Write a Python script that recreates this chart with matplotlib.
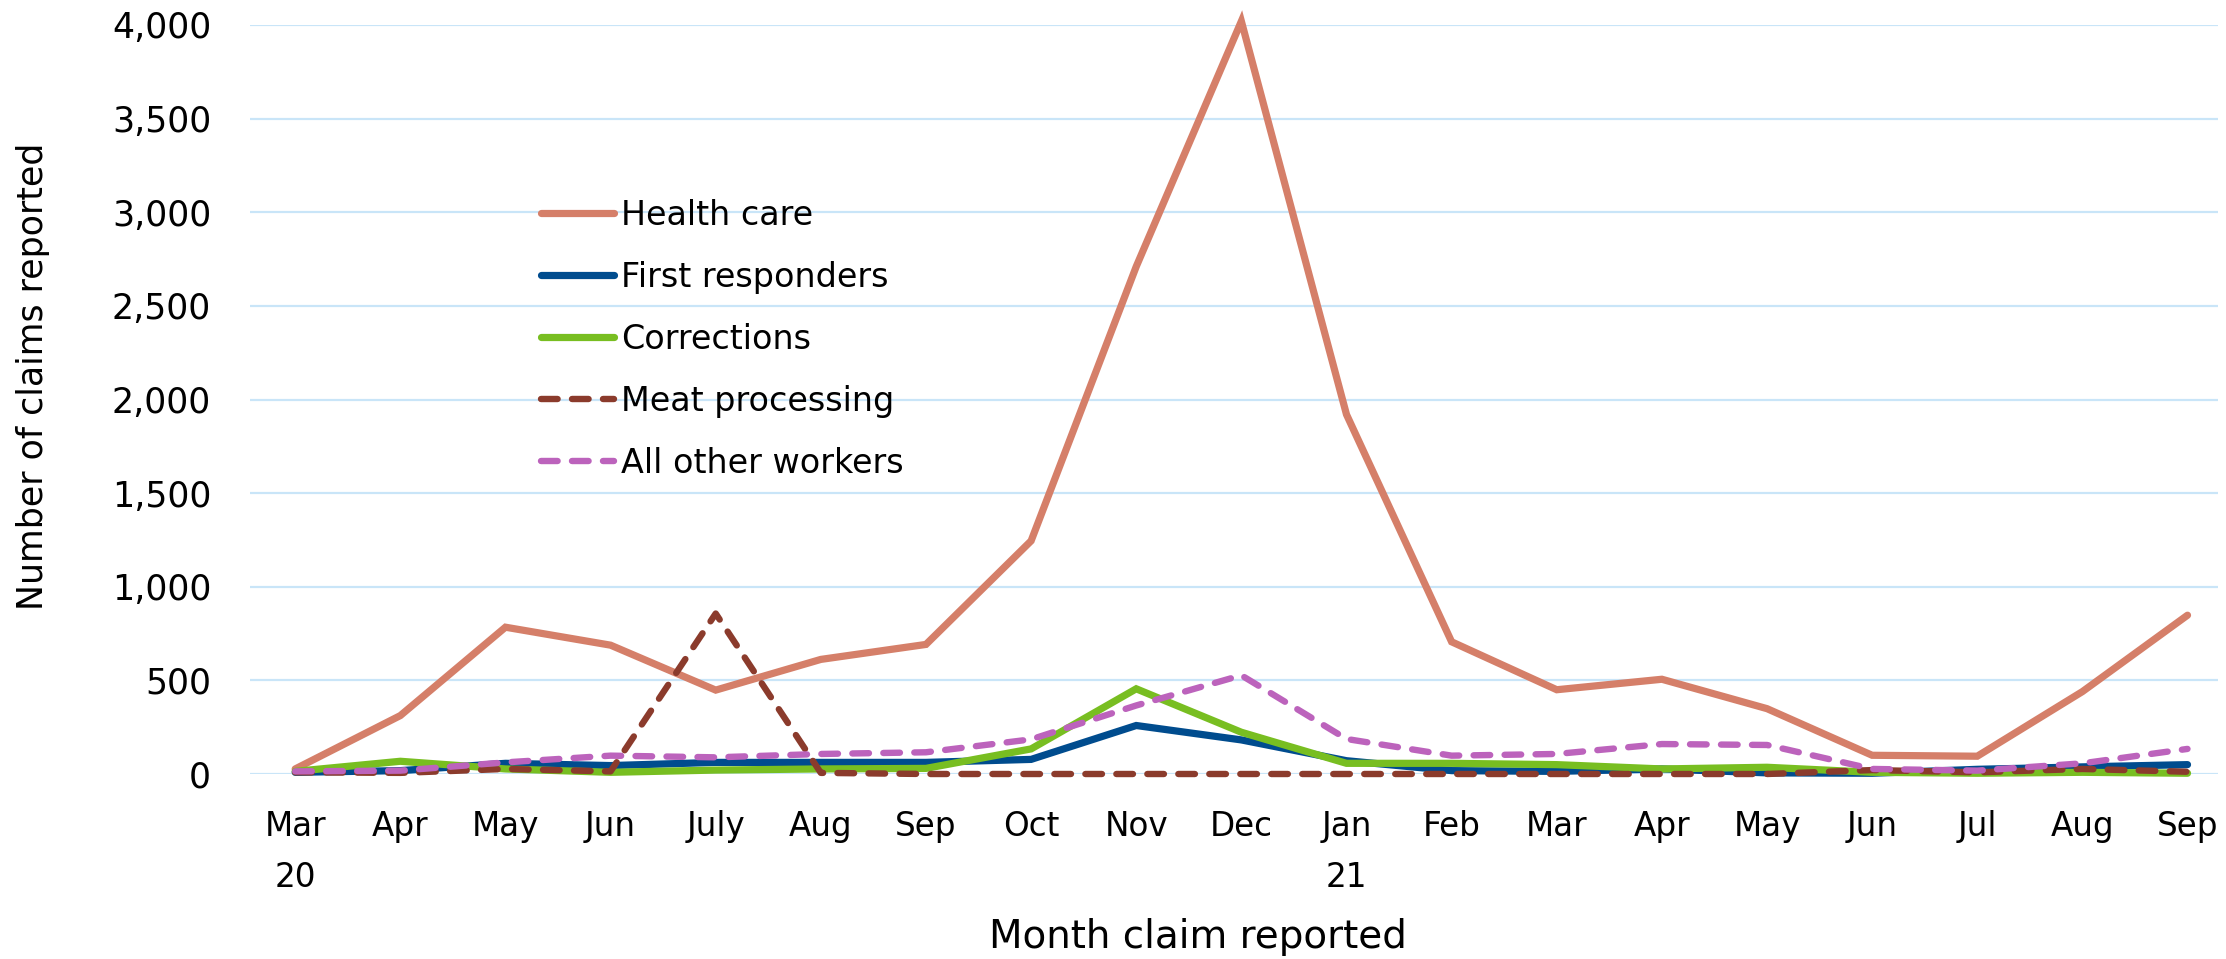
import matplotlib
matplotlib.use("Agg")
import matplotlib.pyplot as plt

months = ["Mar\n20", "Apr", "May", "Jun", "July", "Aug", "Sep", "Oct", "Nov", "Dec",
          "Jan\n21", "Feb", "Mar", "Apr", "May", "Jun", "Jul", "Aug", "Sep"]

health_care = [27, 312, 784, 688, 448, 612, 692, 1245, 2710, 4020,
               1920, 706, 450, 506, 349, 100, 95, 440, 848]
first_responders = [9, 18, 57, 45, 62, 62, 62, 78, 259, 182,
                    71, 18, 14, 27, 6, 4, 25, 38, 50]
corrections = [14, 68, 27, 9, 21, 27, 30, 134, 455, 223,
               57, 57, 50, 27, 36, 9, 4, 9, 4]
meat_processing = [9, 6, 27, 14, 857, 6, 0, 0, 0, 0,
                   0, 0, 0, 0, 0, 21, 9, 27, 12]
all_other = [14, 18, 62, 98, 89, 107, 116, 185, 366, 527,
             187, 98, 107, 160, 155, 27, 18, 57, 134]

series = [
    ("Health care", health_care, "#D57F69", "solid"),
    ("First responders", first_responders, "#004C8E", "solid"),
    ("Corrections", corrections, "#78BE21", "solid"),
    ("Meat processing", meat_processing, "#8B3B2C", "dash"),
    ("All other workers", all_other, "#BC63BC", "dash"),
]

W, H = 2226, 959
fig = plt.figure(figsize=(W / 100, H / 100), dpi=100)
ax = fig.add_axes([250 / W, 1 - 774 / H, (2218 - 250) / W, (774 - 25) / H])

x = list(range(len(months)))
for name, vals, color, style in series:
    if style == "solid":
        ax.plot(x, vals, color=color, lw=5.2, label=name, clip_on=False,
                solid_capstyle="round", solid_joinstyle="miter")
    else:
        ax.plot(x, vals, color=color, lw=4.6, label=name, clip_on=False,
                dashes=(2.6, 2.25), dash_capstyle="round", dash_joinstyle="round")

ax.set_ylim(0, 4000)
ax.set_xlim(-0.43, 18.29)
ax.set_yticks(range(0, 4001, 500))
ax.set_yticklabels([f"{v:,}" for v in range(0, 4001, 500)], fontsize=25)
ax.set_xticks(x)
ax.set_xticklabels(months, linespacing=1.7, fontsize=23.5)
ax.grid(axis="y", color="#C9E5F8", lw=1.6)
ax.set_axisbelow(True)
for s in ax.spines.values():
    s.set_visible(False)
ax.tick_params(axis="both", length=0, colors="black")
ax.tick_params(axis="y", pad=28)
ax.tick_params(axis="x", pad=26)

leg = ax.legend(loc="upper left", bbox_to_anchor=(541 / W, 1 - 199 / H),
                bbox_transform=fig.transFigure, frameon=False,
                prop={"size": 24},
                handlelength=2.2, handletextpad=0.2, labelspacing=0.87,
                borderpad=0, borderaxespad=0)

fig.text(33 / W, 1 - 376 / H, "Number of claims reported", rotation=90,
         ha="center", va="center", fontsize=25)
fig.text(1198 / W, 1 - 937 / H, "Month claim reported", ha="center", va="center",
         fontsize=28)

fig.savefig("out.png", dpi=100)
